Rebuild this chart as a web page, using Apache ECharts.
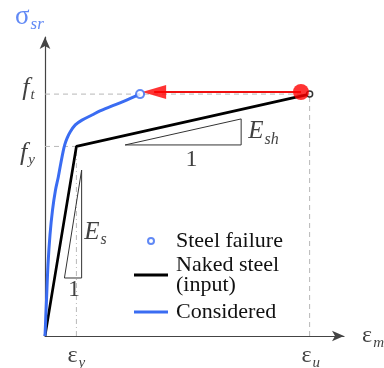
<!DOCTYPE html>
<html lang="en">
<head>
<meta charset="UTF-8">
<title>Steel stress-strain</title>
<style>
  html, body { margin: 0; padding: 0; background: #fff; }
  #main { width: 384px; height: 368px; }
</style>
</head>
<body>
<div id="main"></div>
<script src="https://cdn.jsdelivr.net/npm/echarts@6.0.0/dist/echarts.min.js"></script>
<script>
// key strains / stresses (arbitrary units, axes run 0..100)
const epsY = 10.5, epsU = 88.5, fY = 63.4, fT = 80.9;

const nakedX = [0, epsY, epsU];
const nakedY = [0, fY, fT];

const consideredX = [0, 0.50, 1.00, 1.67, 2.51, 3.51, 4.45, 5.18, 6.02, 6.59, 7.36, 8.46, 10.13, 12.37, 15.72, 18.39, 22.07, 26.09, 31.77];
const consideredY = [0, 12.0, 23.8, 33.8, 42.1, 48.8, 53.2, 57.2, 61.5, 63.9, 66.1, 68.3, 70.6, 72.2, 73.9, 75.3, 76.8, 78.4, 80.9];

const failurePt = [31.8, 80.9];
const peakPt = [85.6, 81.6];
const arrowPt = [36.5, 81.6];

const eshTriX = [26.8, 65.6, 65.6, 26.8];
const eshTriY = [63.9, 63.9, 72.6, 63.9];
const esTriX = [6.5, 12.25, 12.25, 6.5];
const esTriY = [19.4, 19.4, 55.5, 19.4];

const labelText = ['{gb|σ}{sb|sr}', '{it|f}{sub|t}', '{it|f}{sub|y}', '{g|ε}{sub|y}', '{g|ε}{sub|u}',
  '{g|ε}{sub|m}', '{E|E}{subE|s}', '{one|1}', '{E|E}{subE|sh}', '{one|1}'];
const labelX = [-5.2, -5.5, -5.9, 10.5, 88.9, 109.7, 16.9, 9.7, 73.1, 49.0];
const labelY = [106.7, 82.9, 61.2, -6.7, -6.7, 0, 34.8, 15.4, 68.4, 58.9];

const blue = '#3a6cf2';
const serif = "'Liberation Serif', 'Times New Roman', serif";
const zip = (xs, ys) => xs.map((x, i) => [x, ys[i]]);

const guide = (data, type) => ({
  type: 'line', data: data, symbol: 'none', silent: true, z: 1,
  lineStyle: { color: '#b8b8b8', width: 1, type: type || [5, 4] }
});
const tri = (data) => ({
  type: 'line', data: data, symbol: 'none', silent: true, z: 2,
  lineStyle: { color: '#333', width: 1 }
});

const myChart = echarts.init(document.getElementById('main'));
const option = {
  animation: false,
  textStyle: { fontFamily: serif },
  grid: { left: 45, top: 37, right: 40, bottom: 32 },
  xAxis: {
    type: 'value', min: 0, max: 100,
    axisLine: { show: true, symbol: ['none', 'arrow'], symbolSize: [8, 12], lineStyle: { color: '#444', width: 1.2 } },
    axisTick: { show: false }, axisLabel: { show: false }, splitLine: { show: false }
  },
  yAxis: {
    type: 'value', min: 0, max: 100,
    axisLine: { show: true, symbol: ['none', 'arrow'], symbolSize: [8, 12], lineStyle: { color: '#444', width: 1.2 } },
    axisTick: { show: false }, axisLabel: { show: false }, splitLine: { show: false }
  },
  legend: [
    {
      left: 147, top: 230, padding: 0, selectedMode: false, itemWidth: 34, itemHeight: 6,
      textStyle: { fontFamily: serif, fontSize: 22, lineHeight: 22, color: '#111', padding: [0, 0, 0, 3] },
      data: [{ name: 'Steel failure', icon: 'circle', itemStyle: { color: '#fff', borderColor: blue, borderWidth: 2 } }]
    },
    {
      left: 134, top: 254, padding: 0, selectedMode: false, itemWidth: 34, itemHeight: 3,
      textStyle: { fontFamily: serif, fontSize: 22, lineHeight: 20, color: '#111', padding: [0, 0, 0, 3] },
      data: [{ name: 'Naked steel\n(input)', icon: 'rect', itemStyle: { color: '#000' } }]
    },
    {
      left: 134, top: 301, padding: 0, selectedMode: false, itemWidth: 34, itemHeight: 3,
      textStyle: { fontFamily: serif, fontSize: 22, lineHeight: 22, color: '#111', padding: [0, 0, 0, 3] },
      data: [{ name: 'Considered', icon: 'rect', itemStyle: { color: blue } }]
    }
  ],
  series: [
    guide([[0, fT], [epsU, fT]]),
    guide([[0, fY], [epsY, fY]]),
    guide([[epsY, 0], [epsY, fY]], [5, 3, 1, 3]),
    guide([[epsU, 0], [epsU, fT]]),
    tri(zip(eshTriX, eshTriY)),
    tri(zip(esTriX, esTriY)),
    {
      name: 'Naked steel\n(input)', type: 'line', data: zip(nakedX, nakedY), symbol: 'none', z: 3,
      itemStyle: { color: '#000' }, lineStyle: { color: '#000', width: 2.7 }
    },
    {
      name: 'Considered', type: 'line', data: zip(consideredX, consideredY), symbol: 'none', smooth: 0.3, z: 4,
      itemStyle: { color: blue }, lineStyle: { color: blue, width: 3 }
    },
    {
      type: 'line', data: [peakPt, arrowPt], symbol: 'none', z: 5,
      lineStyle: { color: '#f01010', width: 2 }
    },
    {
      type: 'scatter', data: [arrowPt], symbol: 'triangle', symbolRotate: 90, symbolSize: [14, 24], z: 6,
      itemStyle: { color: '#ff0000' }
    },
    {
      name: 'Steel failure', type: 'scatter', data: [failurePt], symbol: 'circle', symbolSize: 8, z: 7,
      itemStyle: { color: '#fff', borderColor: blue, borderWidth: 2 }
    },
    {
      type: 'scatter', data: [[epsU, fT]], symbol: 'circle', symbolSize: 6, z: 6,
      itemStyle: { color: '#fff', borderColor: '#000', borderWidth: 1.5 }
    },
    {
      type: 'scatter', data: [peakPt], symbol: 'circle', symbolSize: 16, z: 8,
      itemStyle: { color: '#ff0000' }
    },
    {
      type: 'scatter', clip: false, silent: true, z: 9, symbolSize: 1,
      itemStyle: { color: 'transparent' },
      data: labelX.map((x, i) => ({ value: [x, labelY[i]], label: { formatter: labelText[i] } })),
      label: {
        show: true, position: 'inside', align: 'center', verticalAlign: 'middle', color: '#111',
        fontFamily: serif, fontSize: 24,
        rich: {
          gb: { fontFamily: serif, fontSize: 27, color: blue },
          sb: { fontFamily: serif, fontSize: 17, fontStyle: 'italic', color: blue, padding: [16, 0, 0, 1] },
          g: { fontFamily: serif, fontSize: 24, color: '#111' },
          it: { fontFamily: serif, fontSize: 26, fontStyle: 'italic', color: '#111' },
          sub: { fontFamily: serif, fontSize: 15, fontStyle: 'italic', color: '#111', padding: [14, 0, 0, 1] },
          E: { fontFamily: serif, fontSize: 25, fontStyle: 'italic', color: '#111' },
          subE: { fontFamily: serif, fontSize: 16, fontStyle: 'italic', color: '#111', padding: [16, 0, 0, 1] },
          one: { fontFamily: serif, fontSize: 24, color: '#111' }
        }
      }
    }
  ]
};
myChart.setOption(option);
</script>
</body>
</html>
